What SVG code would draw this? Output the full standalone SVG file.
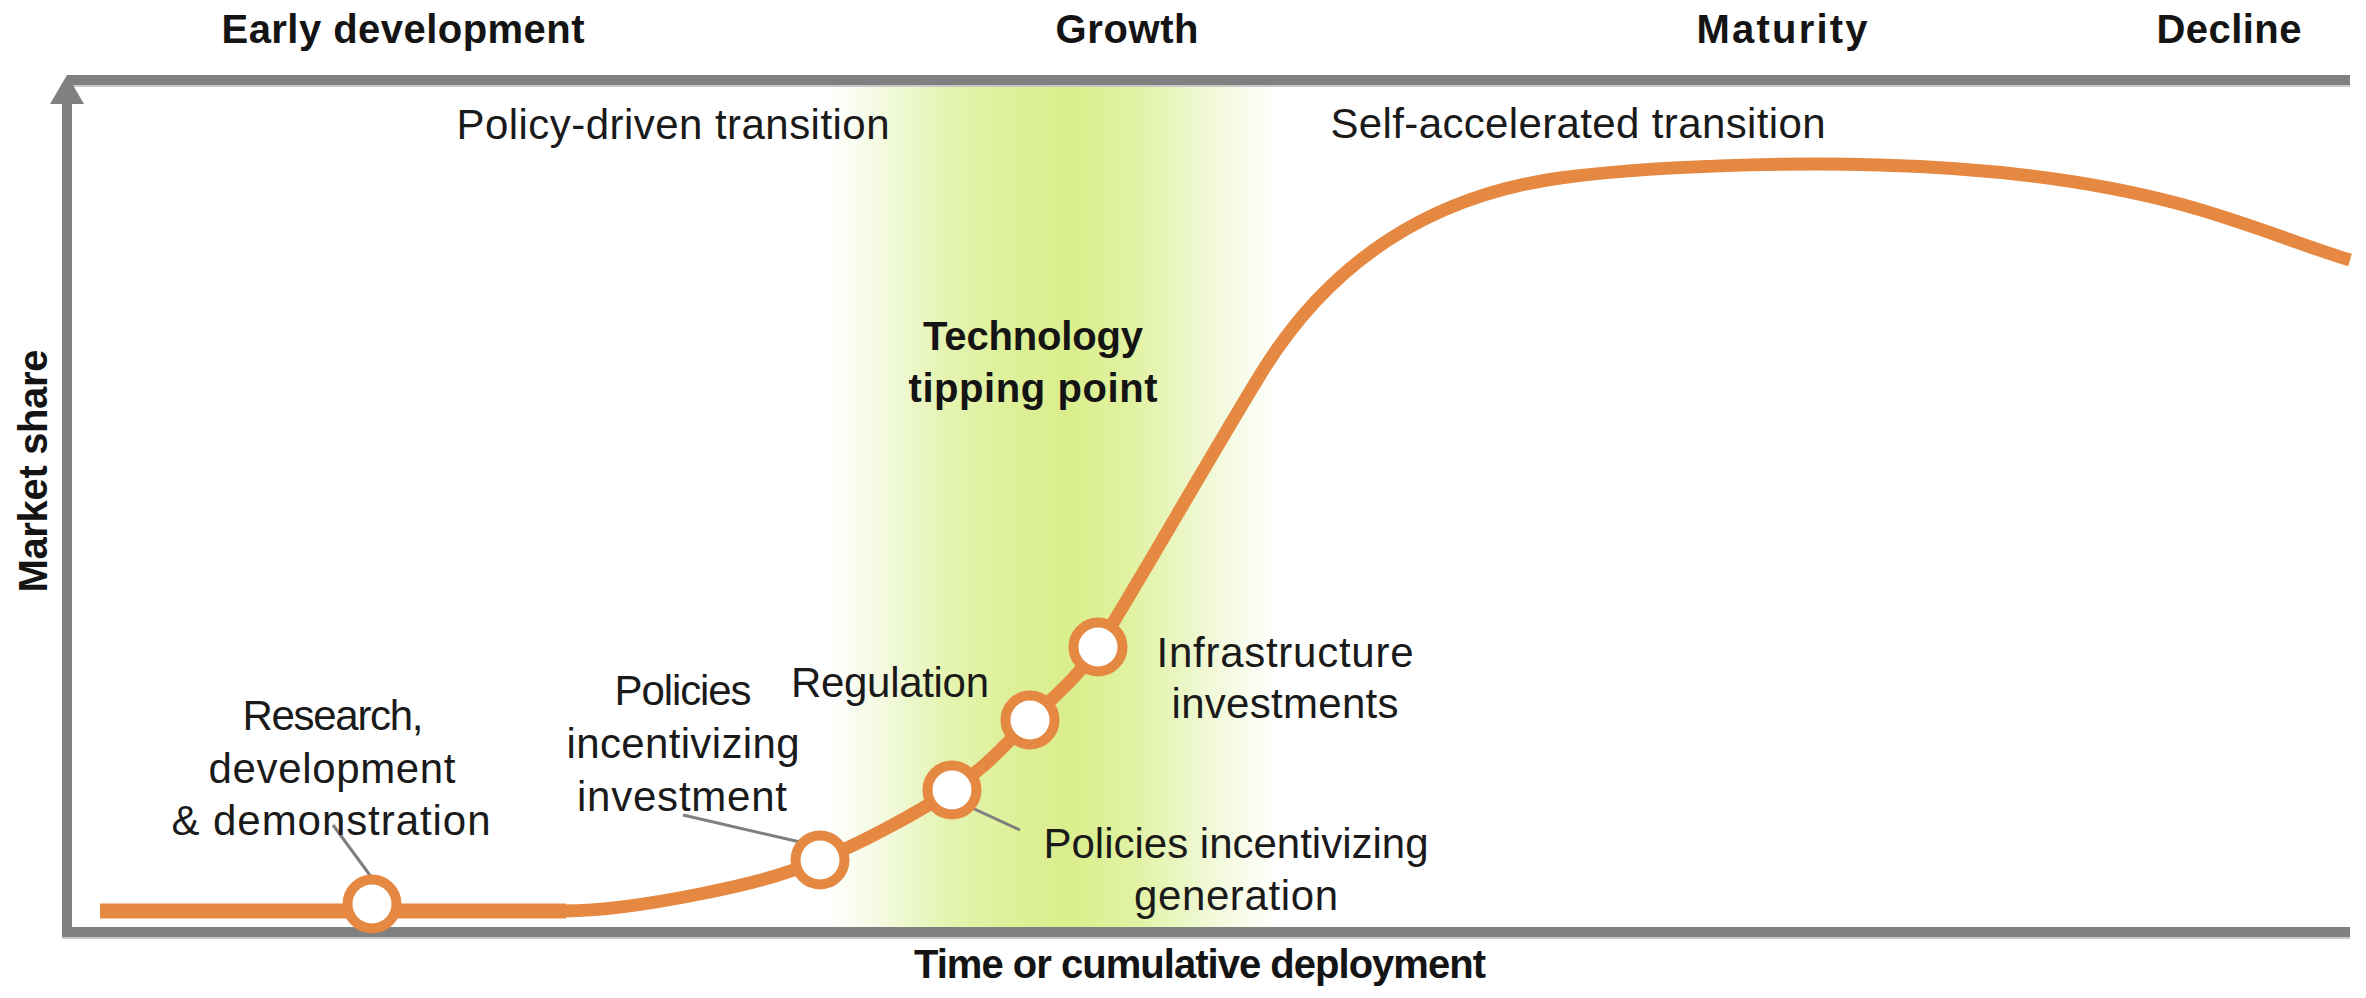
<svg xmlns="http://www.w3.org/2000/svg" width="2366" height="998" viewBox="0 0 2366 998">
  <defs>
    <linearGradient id="band" x1="828" y1="0" x2="1278" y2="0" gradientUnits="userSpaceOnUse">
      <stop offset="0" stop-color="#FFFFFF"/>
      <stop offset="0.12" stop-color="#F3FAE0"/>
      <stop offset="0.25" stop-color="#E6F4B4"/>
      <stop offset="0.4" stop-color="#DEF099"/>
      <stop offset="0.54" stop-color="#DAEE8D"/>
      <stop offset="0.68" stop-color="#E1F2A3"/>
      <stop offset="0.83" stop-color="#EFF8D2"/>
      <stop offset="1" stop-color="#FFFFFF"/>
    </linearGradient>
  </defs>
  <style>
    .head { font-family: "Liberation Sans", Arial, sans-serif; font-weight: bold; font-size: 40px; fill: #141414; text-anchor: middle; }
    .lbl { font-family: "Liberation Sans", Arial, sans-serif; font-size: 42px; fill: #1a1a1a; text-anchor: middle; }
    .axis { stroke: #808080; stroke-width: 10; fill: none; }
    .axisHi { stroke: #C8C8C8; stroke-width: 2; fill: none; }
    .curve { stroke: #E48842; fill: none; stroke-linejoin: round; }
    .dot { fill: #FFFFFF; stroke: #E48842; stroke-width: 10; }
    .leader { stroke: #7F7F7F; stroke-width: 3; fill: none; }
  </style>

  <rect x="0" y="0" width="2366" height="998" fill="#FFFFFF"/>

  <!-- growth band -->
  <rect id="growth-band" x="828" y="85" width="450" height="842" fill="url(#band)"/>

  <!-- frame / axes -->
  <g id="axes">
    <line class="axisHi" x1="67" y1="86" x2="2350" y2="86"/>
    <line class="axis" x1="67" y1="80" x2="2350" y2="80"/>
    <line class="axisHi" x1="62" y1="938" x2="2350" y2="938"/>
    <line class="axis" x1="62" y1="932" x2="2350" y2="932"/>
    <line class="axis" x1="67" y1="937" x2="67" y2="100"/>
    <path d="M67,75 L84,104 L50,104 Z" fill="#808080"/>
  </g>

  <!-- headings -->
  <g id="phase-labels">
    <text class="head" x="403" y="43" textLength="363">Early development</text>
    <text class="head" x="1127" y="43" textLength="143">Growth</text>
    <text class="head" x="1782" y="43" textLength="171">Maturity</text>
    <text class="head" x="2229" y="43" textLength="145">Decline</text>
  </g>

  <g id="transition-labels">
    <text class="lbl" x="673" y="139" textLength="433">Policy-driven transition</text>
    <text class="lbl" x="1578" y="138" textLength="495">Self-accelerated transition</text>
  </g>

  <g id="tipping-point">
    <text class="head" x="1033" y="350" textLength="220">Technology</text>
    <text class="head" x="1033" y="402" textLength="249">tipping point</text>
  </g>

  <text id="y-axis-label" class="head" transform="translate(47,471) rotate(-90)" x="0" y="0" textLength="243">Market share</text>
  <text id="x-axis-label" class="head" x="1200" y="978" textLength="572">Time or cumulative deployment</text>

  <!-- connectors: adoption curve and leader lines -->
  <g id="connectors">
    <line class="curve" x1="100" y1="911" x2="566" y2="911" stroke-width="15"/>
    <path class="curve" stroke-width="13" d="M564,911 C609,911 657.3,902.5 700,894 C742.7,885.5 778,877.3 820,860 C862,842.7 917,813.3 952,790 C987,766.7 1005.7,743.8 1030,720 C1054.3,696.2 1078,677 1098,647 C1122,611 1215,448 1262,372 C1330,262 1430,196 1560,178 C1650,166 1790,162 1880,165 C1990,168 2090,180 2180,204 C2250,223 2300,245 2350,260"/>
    <line class="leader" x1="333" y1="825" x2="372" y2="878"/>
    <line class="leader" x1="683" y1="815" x2="800" y2="842"/>
    <line class="leader" x1="970" y1="807" x2="1020" y2="830"/>
  </g>

  <!-- nodes -->
  <g id="node-rdd">
    <circle class="dot" cx="372" cy="904" r="24.5"/>
    <text class="lbl" x="333" y="730" textLength="181">Research,</text>
    <text class="lbl" x="332" y="783" textLength="247">development</text>
    <text class="lbl" x="331" y="835" textLength="319">&amp; demonstration</text>
  </g>

  <g id="node-investment">
    <circle class="dot" cx="820" cy="860" r="24.5"/>
    <text class="lbl" x="683" y="705" textLength="137">Policies</text>
    <text class="lbl" x="683" y="758" textLength="233">incentivizing</text>
    <text class="lbl" x="682" y="811" textLength="210">investment</text>
  </g>

  <g id="node-generation">
    <circle class="dot" cx="952" cy="790" r="24.5"/>
    <text class="lbl" x="1236" y="858" textLength="385">Policies incentivizing</text>
    <text class="lbl" x="1236" y="910" textLength="204">generation</text>
  </g>

  <g id="node-regulation">
    <circle class="dot" cx="1030" cy="720" r="24.5"/>
    <text class="lbl" x="890" y="697" textLength="198">Regulation</text>
  </g>

  <g id="node-infrastructure">
    <circle class="dot" cx="1098" cy="647" r="24.5"/>
    <text class="lbl" x="1285" y="667" textLength="257">Infrastructure</text>
    <text class="lbl" x="1285" y="718" textLength="227">investments</text>
  </g>
</svg>
